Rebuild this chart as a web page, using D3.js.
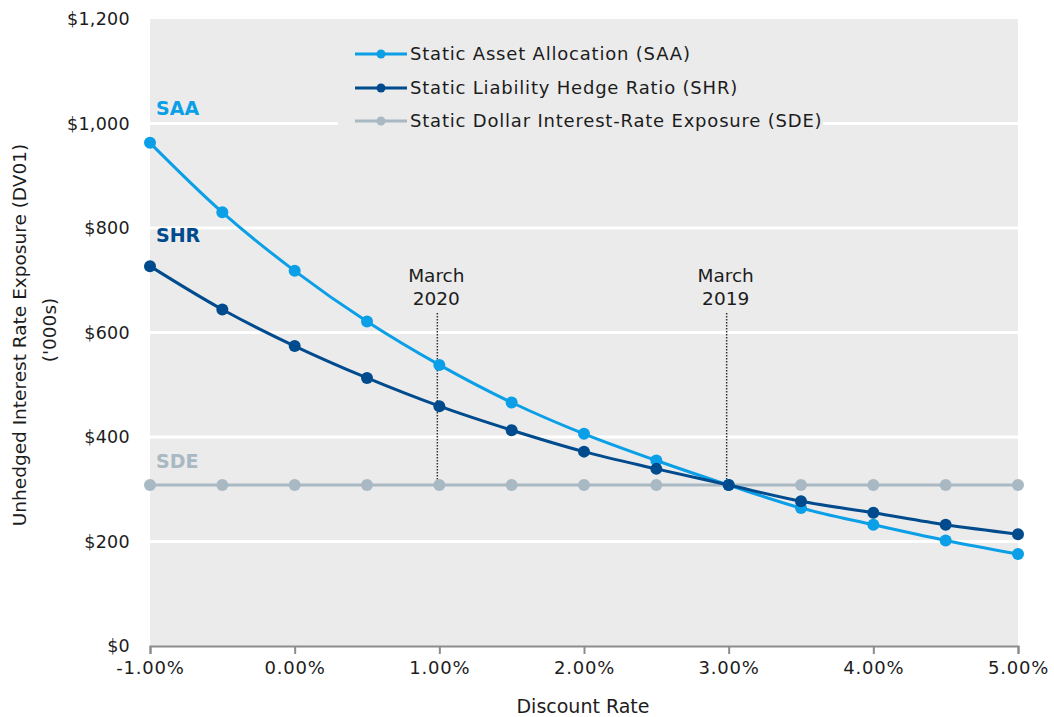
<!DOCTYPE html>
<html><head><meta charset="utf-8">
<script src="https://cdn.jsdelivr.net/npm/d3@7"></script>
<style>
body{margin:0;background:#fff;}
text{font-family:"DejaVu Sans",sans-serif;fill:#1c1c1c;}
</style></head>
<body><svg id="c" width="1054" height="717"></svg>
<script>
const rates = [-1.0,-0.5,0.0,0.5,1.0,1.5,2.0,2.5,3.0,3.5,4.0,4.5,5.0];
const saa = [963,830,718,621,538,466,406,355,308,264,232,202,176];
const shr = [727,644,574,513,459,413,372,339,308,277,255,232,214];
const sde = [308,308,308,308,308,308,308,308,308,308,308,308,308];
const xTicks = [-1,0,1,2,3,4,5];
const yTicks = [0,200,400,600,800,1000,1200];
const seriesNames = ["Static Asset Allocation (SAA)","Static Liability Hedge Ratio (SHR)","Static Dollar Interest-Rate Exposure (SDE)"];
const shortNames = ["SAA","SHR","SDE"];
const colors = ["#0a9fe6","#004b8d","#a9b9c4"];
const annotations = [{rate:1.0,label:["March","2020"]},{rate:3.0,label:["March","2019"]}];

const svg = d3.select("#c");
const L=150,R=1018,T=19,B=646;
const x = d3.scaleLinear().domain([-1,5]).range([L,R]);
const y = d3.scaleLinear().domain([0,1200]).range([B,T]);

svg.append("rect").attr("x",L).attr("y",T).attr("width",R-L).attr("height",B-T).attr("fill","#ebebeb");
// gridlines
svg.append("g").selectAll("line").data(yTicks.filter(d=>d>0&&d<1200)).join("line")
  .attr("x1",L).attr("x2",R).attr("y1",d=>y(d)).attr("y2",d=>y(d))
  .attr("stroke","#fff").attr("stroke-width",3);

// y tick labels
svg.append("g").selectAll("text").data(yTicks).join("text")
  .attr("x",130).attr("y",d=>y(d)).attr("dy","0.35em").attr("text-anchor","end")
  .style("font-size","17.5px").style("letter-spacing","0.3px").text(d=>"$"+d3.format(",")(d));

// x axis
const xa = svg.append("g").attr("transform",`translate(0,${B})`)
  .call(d3.axisBottom(x).tickValues(xTicks).tickSize(8).tickFormat(d=>d.toFixed(2)+"%"));
xa.select(".domain").attr("stroke","#8c8c8c").attr("stroke-width",2);
xa.selectAll(".tick line").attr("stroke","#8c8c8c").attr("stroke-width",2);
xa.selectAll(".tick text").attr("y",15).style("font-size","18px").style("letter-spacing","0.8px")
  .style("font-family","DejaVu Sans").attr("fill","#1c1c1c");

svg.append("text").attr("x",583).attr("y",713).attr("text-anchor","middle").style("font-size","19px").text("Discount Rate");
svg.append("text").attr("transform","translate(26,335) rotate(-90)").attr("text-anchor","middle")
  .style("font-size","18.5px").text("Unhedged Interest Rate Exposure (DV01)");
svg.append("text").attr("transform","translate(56,330) rotate(-90)").attr("text-anchor","middle")
  .style("font-size","18.5px").text("('000s)");

// annotations
annotations.forEach(a=>{
  svg.append("line").attr("x1",x(a.rate)-2).attr("x2",x(a.rate)-2).attr("y1",313).attr("y2",y(308))
    .attr("stroke","#333").attr("stroke-width",1.5).attr("stroke-dasharray","1.5,1.5");
  a.label.forEach((t,i)=>svg.append("text").attr("x",x(a.rate)-3).attr("y",282+i*23)
    .attr("text-anchor","middle").style("font-size","18.5px").text(t));
});

// legend
const lg = svg.append("g");
lg.append("rect").attr("x",338).attr("y",36).attr("width",485).attr("height",100).attr("fill","#ebebeb");
const rowsY=[54,88,121];
seriesNames.forEach((n,i)=>{
  lg.append("line").attr("x1",355).attr("x2",407).attr("y1",rowsY[i]).attr("y2",rowsY[i]).attr("stroke",colors[i]).attr("stroke-width",3);
  lg.append("circle").attr("cx",381).attr("cy",rowsY[i]).attr("r",4.5).attr("fill",colors[i]);
  lg.append("text").attr("x",410).attr("y",rowsY[i]).attr("dy","0.36em").style("font-size","18px").style("letter-spacing","0.8px").text(n);
});

// series
const data=[saa,shr,sde];
const line=d3.line().x((d,i)=>x(rates[i])).y(d=>y(d)).curve(d3.curveCatmullRom);
[2,0,1].forEach(k=>{
  svg.append("path").attr("d",line(data[k])).attr("fill","none").attr("stroke",colors[k]).attr("stroke-width",3);
  svg.append("g").selectAll("circle").data(data[k]).join("circle")
    .attr("cx",(d,i)=>x(rates[i])).attr("cy",d=>y(d)).attr("r",6).attr("fill",colors[k]);
});

// series labels
const labY=[115,242,468];
shortNames.forEach((n,i)=>svg.append("text").attr("x",156).attr("y",labY[i])
  .style("font-size","19px").style("font-weight","bold").style("fill",colors[i]).text(n));
</script></body></html>
